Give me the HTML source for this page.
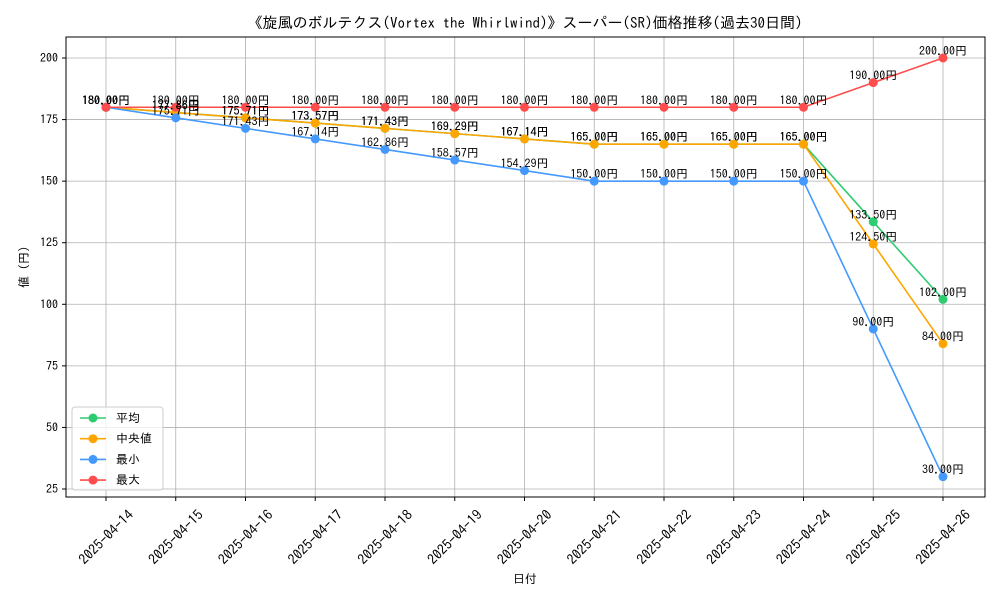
<!DOCTYPE html>
<html><head><meta charset="utf-8"><style>
body{margin:0;background:#fff}
text{font-family:"IPAGothic","Liberation Sans","Noto Sans CJK JP",sans-serif;fill:#000}
</style></head><body>
<svg id="c" width="1000" height="600" xmlns="http://www.w3.org/2000/svg">
<text x="525" y="28" font-size="15" text-anchor="middle">《旋風のボルテクス(Vortex the Whirlwind)》スーパー(SR)価格推移(過去30日間)</text>
<text x="525" y="583" font-size="12" text-anchor="middle">日付</text>
<text x="0" y="0" font-size="12" text-anchor="middle" transform="translate(28,267) rotate(-90)">値 (円)</text>
<g id="grid"></g><g id="series"></g><g id="labels"></g>
<rect x="66" y="37" width="919" height="460" fill="none" stroke="#000" stroke-width="1"/>
<g id="legend"></g>
</svg>
<script>
const categories=["2025-04-14","2025-04-15","2025-04-16","2025-04-17","2025-04-18","2025-04-19","2025-04-20","2025-04-21","2025-04-22","2025-04-23","2025-04-24","2025-04-25","2025-04-26"];
const avgValues=[180,177.86,175.71,173.57,171.43,169.29,167.14,165,165,165,165,133.5,102];
const medianValues=[180,177.86,175.71,173.57,171.43,169.29,167.14,165,165,165,165,124.5,84];
const minValues=[180,175.71,171.43,167.14,162.86,158.57,154.29,150,150,150,150,90,30];
const maxValues=[180,180,180,180,180,180,180,180,180,180,180,190,200];
const yTicks=[25,50,75,100,125,150,175,200];
const seriesNames=["平均","中央値","最小","最大"];
const NS="http://www.w3.org/2000/svg";
const xS=i=>106+i*((943-106)/(categories.length-1));
const yS=v=>58+(200-v)*(489-58)/175;
function mk(tag,attrs,parent){const e=document.createElementNS(NS,tag);for(const k in attrs)e.setAttribute(k,attrs[k]);parent.appendChild(e);return e;}
const grid=document.getElementById('grid');
yTicks.forEach(t=>{
 const l=mk('line',{x1:66,x2:985,y1:yS(t),y2:yS(t),stroke:'#b0b0b0','stroke-width':0.8},grid);
 
 
 mk('line',{x1:62,x2:66,y1:yS(t),y2:yS(t),stroke:'#000'},grid);
 const tx=mk('text',{x:58,y:yS(t)+4,'font-size':12,'text-anchor':'end'},grid);tx.textContent=t;
 
 
});
categories.forEach((c,i)=>{
 const l=mk('line',{x1:xS(i),x2:xS(i),y1:37,y2:497,stroke:'#b0b0b0','stroke-width':0.8},grid);
 
 
 mk('line',{x1:xS(i),x2:xS(i),y1:497,y2:501,stroke:'#000'},grid);
 const tx=mk('text',{x:0,y:0,'font-size':14,'text-anchor':'middle','dominant-baseline':'central',transform:`translate(${xS(i)},${537}) rotate(-45)`},grid);tx.textContent=c;
 
 
});
const colors=["#2ecc71","#ffa500","#4499ff","#ff4c4c"];
const allSeries=[avgValues,medianValues,minValues,maxValues];
const sg=document.getElementById('series'),lg=document.getElementById('labels');
allSeries.forEach((vals,s)=>{
 const p=mk('polyline',{points:vals.map((v,i)=>xS(i)+','+yS(v)).join(' '),fill:'none',stroke:colors[s],'stroke-width':1.6},sg);
 
 
 vals.forEach((v,i)=>{
  const c=mk('circle',{cx:xS(i),cy:yS(v),r:4.5,fill:colors[s]},sg);
  
  
  const t=mk('text',{x:xS(i),y:yS(v)-3,'font-size':12,'text-anchor':'middle'},lg);t.textContent=v.toFixed(2)+'円';
  
  
 });
});
const lgd=document.getElementById('legend');
const box=mk('rect',{x:72,y:407,width:91,height:83,rx:3,fill:'#fff','fill-opacity':0.8,stroke:'#ccc'},lgd);


seriesNames.forEach((n,s)=>{
 const y=418+s*20.7;
 mk('line',{x1:80,x2:106,y1:y,y2:y,stroke:colors[s],'stroke-width':1.6},lgd);
 mk('circle',{cx:93,cy:y,r:4.5,fill:colors[s]},lgd);
 const t=mk('text',{x:116,y:y+4,'font-size':12},lgd);t.textContent=n;
 
 
});
</script>
</body></html>
